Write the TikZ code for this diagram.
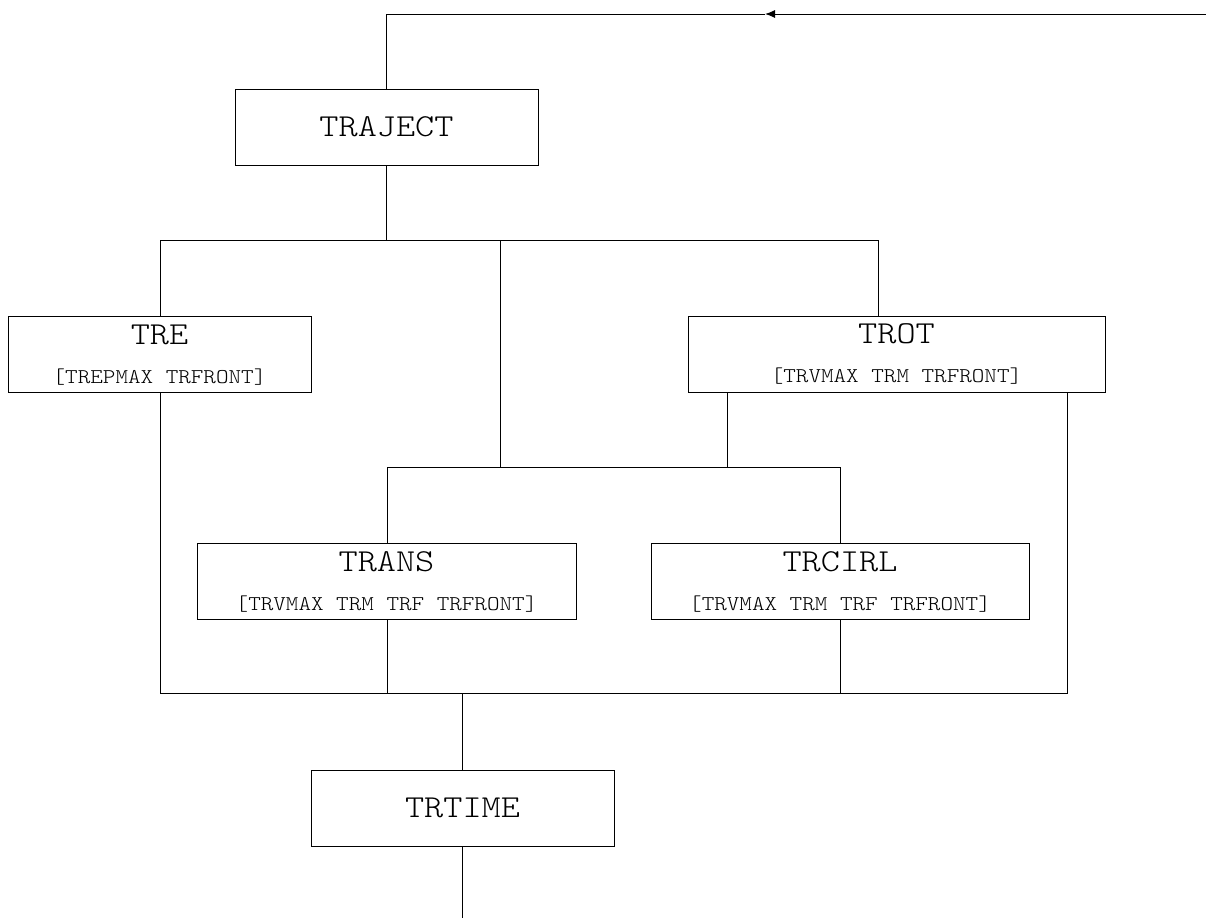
\documentclass[tikz,border=0pt]{standalone}
\usepackage{fontspec}
\newfontfamily\courierlike[FakeStretch=1.14]{Latin Modern Mono Light}
\usetikzlibrary{arrows.meta}
\tikzset{
    plain-box/.style = {draw=black, fill=white, line width=1pt, rectangle, inner sep=0pt, minimum height=76},
    box-title/.style = {font=\courierlike\fontsize{32}{38}\selectfont, inner sep=0pt},
    box-sub/.style = {font=\courierlike\fontsize{21}{25}\selectfont, inner sep=0pt},
}

\begin{document}
\begin{tikzpicture}[x=1pt, y=-1pt, line width=1pt]
\useasboundingbox (0,0) rectangle (1206,918);
% boxes
\node[plain-box, minimum width=303] (traject) at (386.5,127) {};
\node[box-title] (traject-title) at (traject.center) {TRAJECT};
\node[plain-box, minimum width=303] (tre) at (159.5,354.5) {};
\node[box-title] (tre-title) at ([yshift=20]tre.center) {TRE};
\node[box-sub] (tre-sub) at ([yshift=-22.5]tre.center) {[TREPMAX TRFRONT]};
\node[plain-box, minimum width=417] (trot) at (896.5,354) {};
\node[box-title] (trot-title) at ([yshift=20]trot.center) {TROT};
\node[box-sub] (trot-sub) at ([yshift=-22.5]trot.center) {[TRVMAX TRM TRFRONT]};
\node[plain-box, minimum width=379] (trans) at (386.5,581.5) {};
\node[box-title] (trans-title) at ([yshift=20]trans.center) {TRANS};
\node[box-sub] (trans-sub) at ([yshift=-22.5]trans.center) {[TRVMAX TRM TRF TRFRONT]};
\node[plain-box, minimum width=378] (trcirl) at (840,581.5) {};
\node[box-title] (trcirl-title) at ([yshift=20]trcirl.center) {TRCIRL};
\node[box-sub] (trcirl-sub) at ([yshift=-22.5]trcirl.center) {[TRVMAX TRM TRF TRFRONT]};
\node[plain-box, minimum width=303] (trtime) at (462.5,808) {};
\node[box-title] (trtime-title) at (trtime.center) {TRTIME};
% junctions
\coordinate (entry) at (1206,14);
\coordinate (tip) at (765,14);
\coordinate (bus-top-l) at (160,240);
\coordinate (bus-top-r) at (878,240);
\coordinate (branch) at (500,240);
\coordinate (bus-mid-l) at (387,467);
\coordinate (bus-mid-r) at (840,467);
\coordinate (trot-l) at (727,392);
\coordinate (bus-bot-l) at (160,693);
\coordinate (bus-bot-r) at (1067,693);
\coordinate (bus-bot-c) at (462,693);
\coordinate (exit) at (462,918);
% connectors
\draw[-{Latex[length=10,width=8]}] (entry) -- (tip);
\draw (tip) -- (tip -| traject.north) -- (traject.north);
\draw (traject.south) -- (traject.south |- bus-top-l);
\draw (bus-top-l) -- (bus-top-r);
\draw (bus-top-l) -- (bus-top-l |- tre.north);
\draw (bus-top-r) -- (bus-top-r |- trot.north);
\draw (branch) -- (branch |- bus-mid-l);
\draw (trot-l) -- (trot-l |- bus-mid-l);
\draw (bus-mid-l) -- (bus-mid-r);
\draw (bus-mid-l) -- (bus-mid-l |- trans.north);
\draw (bus-mid-r) -- (bus-mid-r |- trcirl.north);
\draw (bus-bot-l |- tre.south) -- (bus-bot-l) -- (bus-bot-r) -- (bus-bot-r |- trot.south);
\draw (bus-mid-l |- trans.south) -- (bus-mid-l |- bus-bot-l);
\draw (bus-mid-r |- trcirl.south) -- (bus-mid-r |- bus-bot-l);
\draw (bus-bot-c) -- (bus-bot-c |- trtime.north);
\draw (exit |- trtime.south) -- (exit);
\end{tikzpicture}
\end{document}
